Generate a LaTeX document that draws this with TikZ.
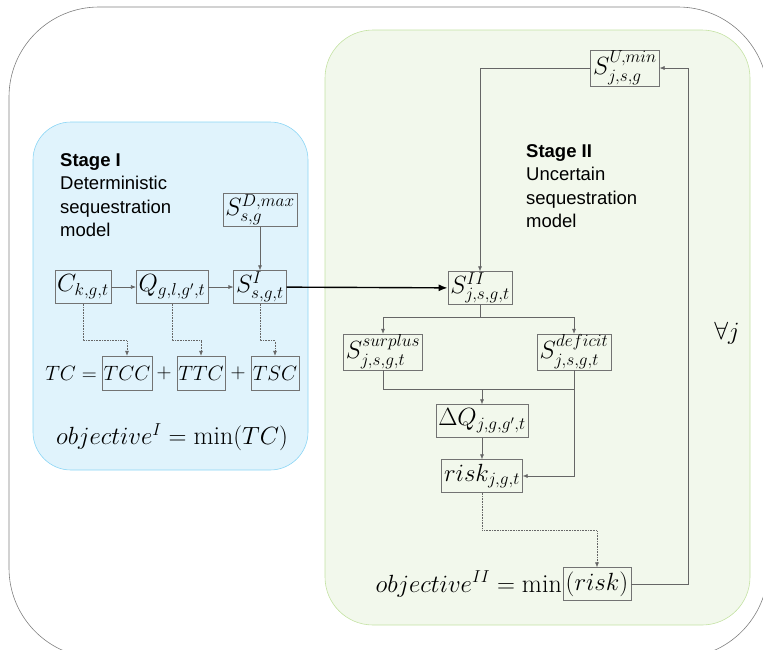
\documentclass[tikz,border=0pt]{standalone}
\usepackage{amsmath}
\usepackage{fontspec}
\newfontfamily\stagefont{Liberation Sans}
\usetikzlibrary{arrows.meta}
\usetikzlibrary{positioning}
\definecolor{stageoneFill}{RGB}{224,243,252}
\definecolor{stageoneLine}{RGB}{140,214,245}
\definecolor{stagetwoFill}{RGB}{242,248,236}
\definecolor{stagetwoLine}{RGB}{196,226,163}

\begin{document}
\begin{tikzpicture}[x=1pt,y=-1pt,>={Latex[length=5pt,width=4pt]}]
\tikzstyle{var}=[draw=black!55,inner xsep=2.5pt,inner ysep=1pt,minimum height=33pt,font=\fontsize{23}{26}\selectfont]
\tikzstyle{term}=[var,inner xsep=1.5pt,minimum height=34pt,font=\fontsize{22}{26}\selectfont]
\tikzstyle{eqn}=[inner sep=1pt,font=\fontsize{22}{26}\selectfont]
\tikzstyle{goal}=[inner sep=1pt,font=\fontsize{26}{30}\selectfont]
\tikzstyle{link}=[draw=black!60,line width=0.6pt]
\tikzstyle{cost}=[draw=black!60,line width=0.6pt,densely dotted]
\tikzstyle{label}=[anchor=north west,align=left,inner sep=0pt,font=\stagefont\fontsize{18.5}{23.5}\selectfont]
\clip (0,0) rectangle (763,649);
% frames
\draw[black!50,line width=0.6pt,rounded corners=90] (9,7) rectangle (768,658);
\draw[stageoneLine,fill=stageoneFill,line width=0.6pt,rounded corners=38] (33,122) rectangle (308,470);
\draw[stagetwoLine,fill=stagetwoFill,line width=0.6pt,rounded corners=48] (325,30) rectangle (750,625);
% stage I
\node[label] (titleI) at (60,153) {\textbf{Stage I}\\Deterministic\\sequestration\\model};
\node[var] (Smax) at (260,210) {$S^{D,max}_{s,g}$};
\node[var] (C) at (83,287) {$C_{k,g,t}$};
\node[var] (Q) at (172,287) {$Q_{g,l,g',t}$};
\node[var] (SI) at (260,287) {$S^{I}_{s,g,t}$};
\node[eqn] (TC) at (71,373) {$TC=$};
\node[term] (TCC) at (127,373) {$TCC$};
\node[eqn] (p1) at (164,373) {$+$};
\node[term] (TTC) at (201,373) {$TTC$};
\node[eqn] (p2) at (238,373) {$+$};
\node[term] (TSC) at (275,373) {$TSC$};
\node[goal] (objI) at (172,437) {$objective^{I}=\min(TC)$};
\draw[link,->] (Smax) -- (SI);
\draw[link,->] (C) -- (Q);
\draw[link,->] (Q) -- (SI);
\draw[cost,->] (C.south) -- ++(0,37) -| (TCC.north);
\draw[cost,->] (Q.south) -- ++(0,37) -| (TTC.north);
\draw[cost,->] (SI.south) -- ++(0,37) -| (TSC.north);
% stage II
\node[label] (titleII) at (526,144) {\textbf{Stage II}\\Uncertain\\sequestration\\model};
\node[var] (Umin) at (625,68) {$S^{U,min}_{j,s,g}$};
\node[var] (SII) at (480,288) {$S^{II}_{j,s,g,t}$};
\node[var] (Ssur) at (383,352) {$S^{surplus}_{j,s,g,t}$};
\node[var] (Sdef) at (574,352) {$S^{deficit}_{j,s,g,t}$};
\node[var] (dQ) at (482,421) {$\Delta Q_{j,g,g',t}$};
\node[var] (risk) at (482,476) {$risk_{j,g,t}$};
\node[goal,anchor=east] (objII) at (563,584) {$objective^{II}=\min$};
\node[var,font=\fontsize{26}{30}\selectfont,anchor=west] (minrisk) at (objII.east) {$(risk)$};
\node[goal] (all) at (727,333) {$\forall j$};
\draw[line width=1.4pt,->,>={Latex[length=9pt,width=7pt]}] (SI) -- (SII);
\draw[link,->] (Umin.west) -| (SII.north);
\draw[link] (SII.south) -- ++(0,13) coordinate (split);
\draw[link,->] (split) -| (Ssur.north);
\draw[link,->] (split) -| (Sdef.north);
\draw[link] (Ssur.south) |- (Sdef.south |- 0,389) coordinate (merge);
\draw[link,->] (dQ.north |- merge) -- (dQ.north);
\draw[link,->] (dQ) -- (risk);
\draw[link,->] (Sdef.south) |- (risk.east);
\draw[cost,->] (risk.south) -- ++(0,38) -| (minrisk.north);
\draw[link,->] (minrisk.east) -- ++(57,0) |- (Umin.east);
\end{tikzpicture}
\end{document}
